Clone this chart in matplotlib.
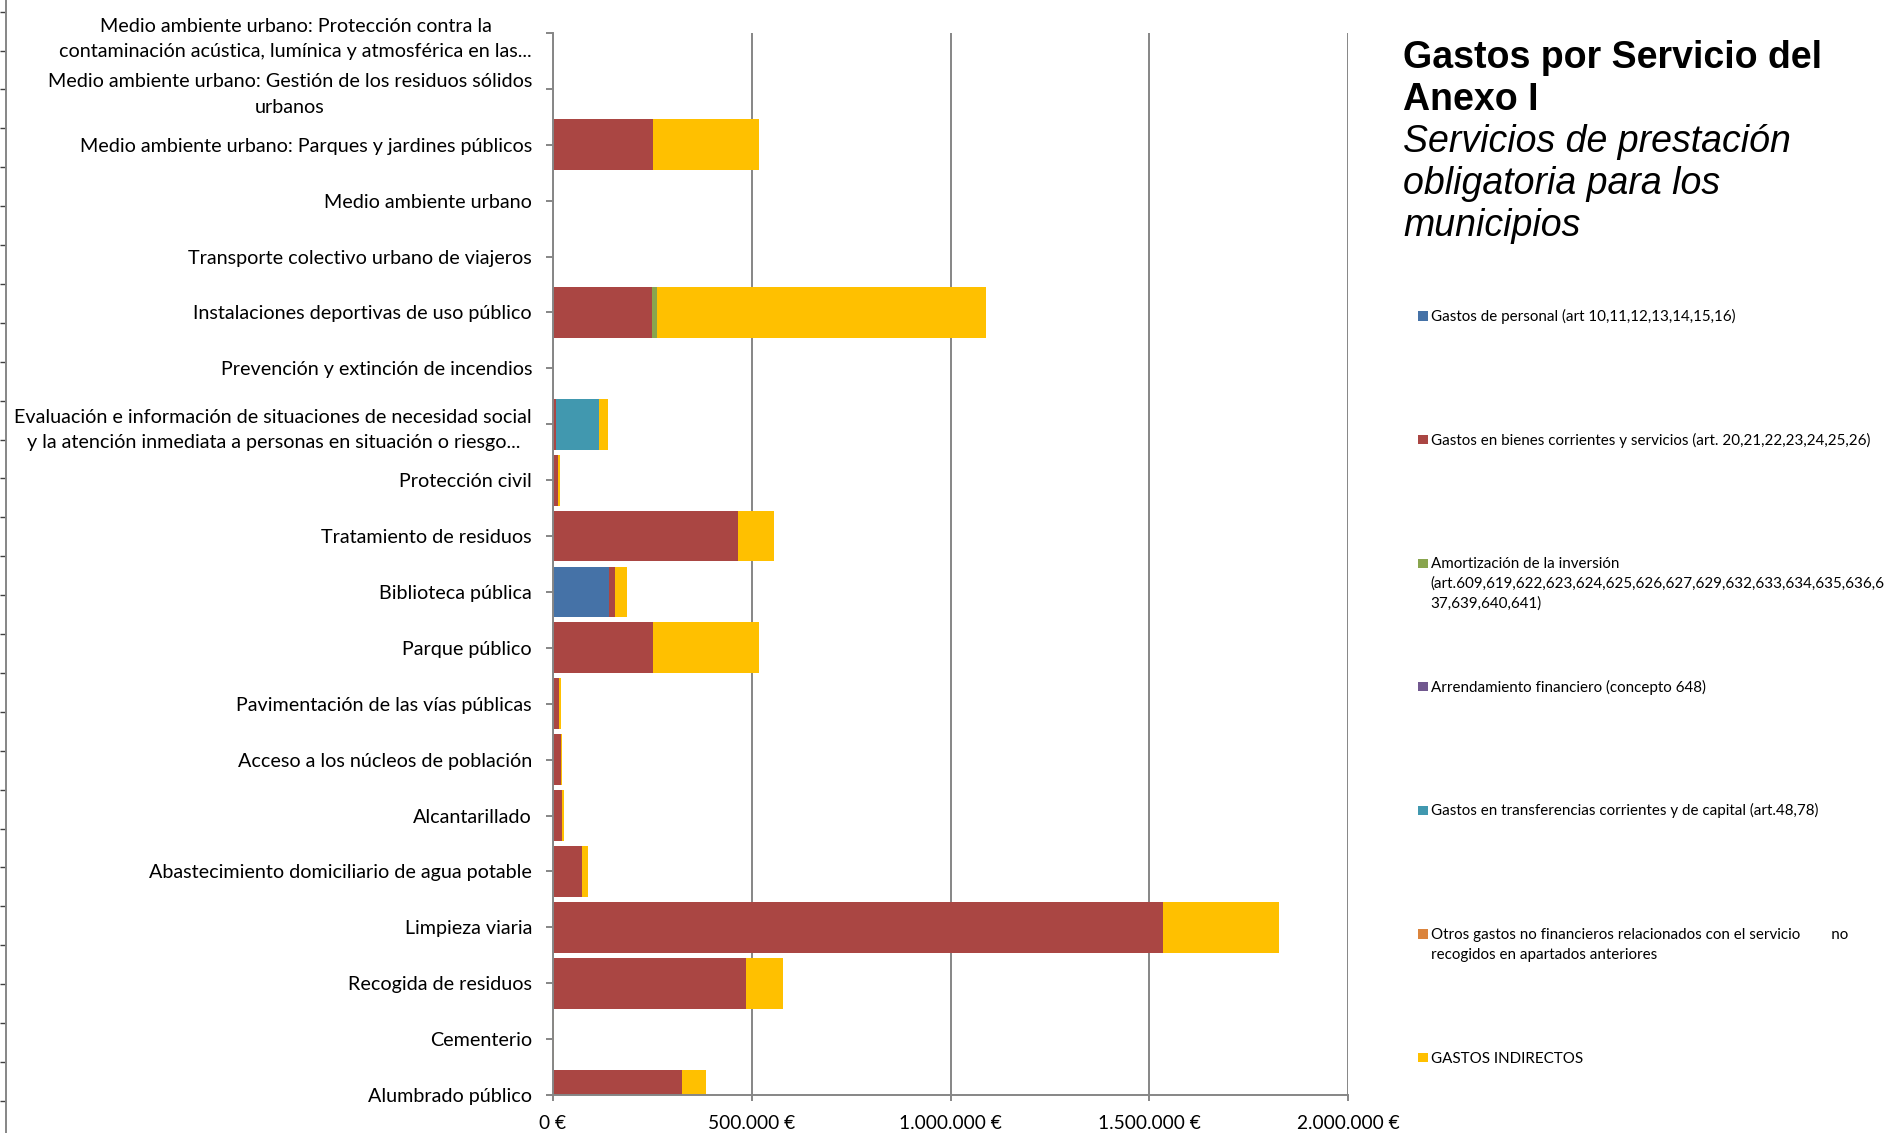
import matplotlib
matplotlib.use('Agg')
import matplotlib.pyplot as plt
import numpy as np
from matplotlib.patches import Rectangle
from matplotlib.ticker import FuncFormatter, MultipleLocator

plt.rcParams['font.family'] = ['Lato', 'DejaVu Sans']

# categorias de abajo a arriba (como en el grafico)
categorias = [
    'Alumbrado público',
    'Cementerio',
    'Recogida de residuos',
    'Limpieza viaria',
    'Abastecimiento domiciliario de agua potable',
    'Alcantarillado',
    'Acceso a los núcleos de población',
    'Pavimentación de las vías públicas',
    'Parque público',
    'Biblioteca pública',
    'Tratamiento de residuos',
    'Protección civil',
    'Evaluación e información de situaciones de necesidad social\n'
    'y la atención inmediata a personas en situación o riesgo...',
    'Prevención y extinción de incendios',
    'Instalaciones deportivas de uso público',
    'Transporte colectivo urbano de viajeros',
    'Medio ambiente urbano',
    'Medio ambiente urbano: Parques y jardines públicos',
    'Medio ambiente urbano: Gestión de los residuos sólidos\nurbanos',
    'Medio ambiente urbano: Protección contra la\n'
    'contaminación acústica, lumínica y atmosférica en las...',
]

series = [
    'Gastos de personal (art 10,11,12,13,14,15,16)',
    'Gastos en bienes corrientes y servicios (art. 20,21,22,23,24,25,26)',
    'Amortización de la inversión\n'
    '(art.609,619,622,623,624,625,626,627,629,632,633,634,635,636,6\n'
    '37,639,640,641)',
    'Arrendamiento financiero (concepto 648)',
    'Gastos en transferencias corrientes y de capital (art.48,78)',
    'Otros gastos no financieros relacionados con el servicio        no\n'
    'recogidos en apartados anteriores',
    'GASTOS INDIRECTOS',
]
colores = ['#4572A7', '#AA4643', '#89A54E', '#71588F', '#4198AF', '#DB843D', '#FFC000']

personal =       [0, 0, 0, 0, 0, 0, 0, 0, 0, 141000, 0, 0, 0, 0, 0, 0, 0, 0, 0, 0]
bienes =         [325000, 0, 485000, 1535000, 74000, 23000, 20000, 16000, 253000, 16000,
                  467000, 13000, 8000, 0, 250000, 0, 0, 253000, 0, 0]
amortizacion =   [0, 0, 0, 0, 0, 0, 0, 0, 0, 0, 0, 0, 0, 0, 11000, 0, 0, 0, 0, 0]
arrendamiento =  [0] * 20
transferencias = [0, 0, 0, 0, 0, 0, 0, 0, 0, 0, 0, 0, 109000, 0, 0, 0, 0, 0, 0, 0]
otros =          [0] * 20
indirectos =     [60000, 4000, 93000, 290000, 14000, 5000, 2500, 4000, 265000, 30000,
                  89000, 5000, 22000, 0, 827000, 0, 0, 265000, 0, 0]
valores = [personal, bienes, amortizacion, arrendamiento, transferencias, otros, indirectos]

W, H = 1891, 1133
fig = plt.figure(figsize=(W / 100, H / 100), dpi=100)
ax = fig.add_axes([552.7 / W, 1 - 1095 / H, (1348.3 - 552.7) / W, (1095 - 33) / H])

y = np.arange(len(categorias))
left = np.zeros(len(categorias))
for vals, col in zip(valores, colores):
    vals = np.array(vals, dtype=float)
    ax.barh(y, vals, left=left, height=0.91, color=col, linewidth=0)
    left += vals

gris = '#868686'
ax.set_ylim(0, len(categorias) - 1)
ax.set_yticks(y)
ax.set_yticklabels(categorias, multialignment='center', linespacing=1.6)
ax.set_xlim(0, 2000000)
ax.xaxis.set_major_locator(MultipleLocator(500000))
ax.xaxis.set_major_formatter(FuncFormatter(lambda v, p: f'{v:,.0f}'.replace(',', '.') + ' €'))
ax.grid(axis='x', color=gris, lw=1.4)
ax.set_axisbelow(True)
for s in ['top', 'right']:
    ax.spines[s].set_visible(False)
for s in ['left', 'bottom']:
    ax.spines[s].set_color(gris)
    ax.spines[s].set_linewidth(1.4)
ax.tick_params(axis='y', length=5, width=1.4, color=gris, pad=9.9, labelsize=14.2)
ax.tick_params(axis='x', length=4, width=1.4, color=gris, pad=10.5, labelsize=13.8)

# titulo
titulo = [('Gastos por Servicio del', 'bold', 'normal', 68.3),
          ('Anexo I', 'bold', 'normal', 110),
          ('Servicios de prestación', 'normal', 'italic', 152.5),
          ('obligatoria para los', 'normal', 'italic', 194.5),
          ('municipios', 'normal', 'italic', 236.5)]
for txt, peso, estilo, yb in titulo:
    fig.text(1403 / W, 1 - yb / H, txt, fontsize=27, fontweight=peso, fontstyle=estilo,
             family='Liberation Sans', va='baseline', ha='left')

# leyenda
for i, (nombre, col) in enumerate(zip(series, colores)):
    c = 316 + i * 123.6
    fig.patches.append(Rectangle((1418.3 / W, 1 - (c + 4.6) / H), 9.3 / W, 9.3 / H,
                                 transform=fig.transFigure, color=col, lw=0))
    for j, linea in enumerate(nombre.split('\n')):
        fig.text(1430.7 / W, 1 - (c + 5 + j * 20) / H, linea, fontsize=10.9,
                 va='baseline', ha='left')

# borde del grafico vecino a la izquierda
ax2 = fig.add_axes([5.7 / W, 0, 0.01, 1])
ax2.patch.set_visible(False)
for s in ['top', 'right', 'bottom']:
    ax2.spines[s].set_visible(False)
ax2.spines['left'].set_color(gris)
ax2.spines['left'].set_linewidth(1.4)
ax2.set_ylim(H, 0)
ax2.set_yticks(np.arange(11.7, H, 38.9))
ax2.set_yticklabels([])
ax2.set_xticks([])
ax2.tick_params(axis='y', length=4.1, width=1, color='#404040')

fig.savefig('out.png', dpi=100)
